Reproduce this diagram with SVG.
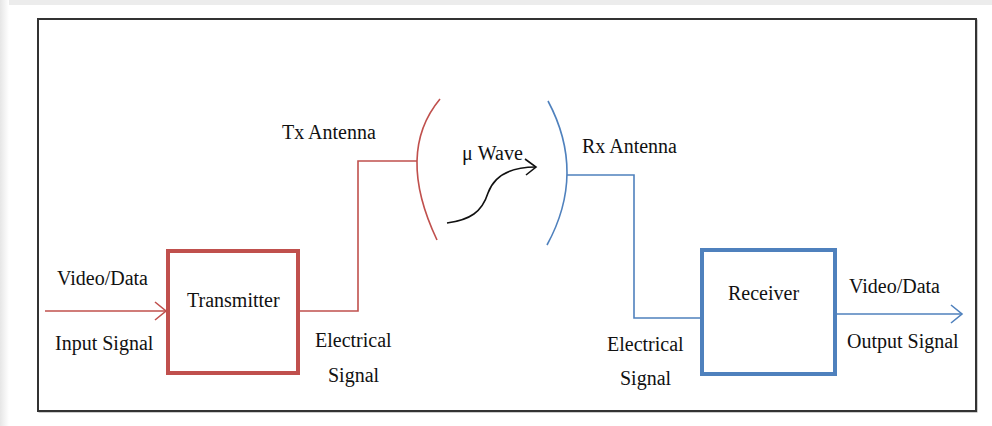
<svg xmlns="http://www.w3.org/2000/svg" width="992" height="426" viewBox="0 0 992 426">
<defs>
<linearGradient id="lg" x1="0" y1="0" x2="1" y2="0">
<stop offset="0" stop-color="#e6e6e6"/>
<stop offset="1" stop-color="#ffffff"/>
</linearGradient>
<marker id="ar" markerUnits="userSpaceOnUse" markerWidth="14" markerHeight="22" refX="11" refY="9" orient="auto" viewBox="-1 -1 14 20">
<path d="M0,0 L11,9 L0,18" fill="none" stroke="#C0504D" stroke-width="1.6"/>
</marker>
<marker id="ab" markerUnits="userSpaceOnUse" markerWidth="14" markerHeight="22" refX="11" refY="9" orient="auto" viewBox="-1 -1 14 20">
<path d="M0,0 L11,9 L0,18" fill="none" stroke="#4F81BD" stroke-width="1.6"/>
</marker>
<marker id="ak" markerUnits="userSpaceOnUse" markerWidth="14" markerHeight="20" refX="11" refY="8" orient="auto" viewBox="-1 -1 14 18">
<path d="M0,0 L11,8 L1,16" fill="none" stroke="#111" stroke-width="1.6"/>
</marker>
</defs>
<style>
text{font-family:"Liberation Serif","Times New Roman",serif;font-size:20px;fill:#111}
.box{fill:#fff;stroke-width:4}
.red{stroke:#C0504D}
.blue{stroke:#4F81BD}
.ln{fill:none;stroke-width:1.6}
</style>
<rect x="0" y="0" width="992" height="426" fill="#fff"/>
<rect x="0" y="0" width="992" height="5" fill="#ececec"/>
<rect x="0" y="0" width="9" height="426" fill="url(#lg)"/>
<rect x="39" y="20" width="938" height="392" fill="none" stroke="#999" stroke-width="1"/>
<rect x="38" y="19" width="938" height="392" fill="#fff" stroke="#333" stroke-width="2"/>

<g id="connectors">
<path class="ln red" d="M45,311 H166" marker-end="url(#ar)"/>
<path class="ln red" d="M298,311 H358 V161 H417"/>
<path class="ln blue" d="M567,175 H634 V318 H702"/>
<path class="ln blue" d="M835,314 H962" marker-end="url(#ab)"/>
<path d="M447,223 C470,220 482,212 488,193 C494,176 510,167 536,167" fill="none" stroke="#111" stroke-width="1.6" marker-end="url(#ak)"/>
</g>

<g id="tx-antenna">
<path class="ln red" d="M440,99 Q395.5,152.5 437,240"/>
<text x="282" y="139">Tx Antenna</text>
</g>
<g id="rx-antenna">
<path class="ln blue" d="M548,101 Q586.5,173 547,245"/>
<text x="582" y="153">Rx Antenna</text>
</g>
<g id="wave">
<text x="462" y="160">μ Wave</text>
</g>
<g id="transmitter">
<rect class="box red" x="168" y="251" width="130" height="122"/>
<text x="187" y="307">Transmitter</text>
</g>
<g id="receiver">
<rect class="box blue" x="702" y="250" width="133" height="124"/>
<text x="728" y="300">Receiver</text>
</g>
<g id="labels">
<text x="57" y="285">Video/Data</text>
<text x="55" y="350">Input Signal</text>
<text x="315" y="347">Electrical</text>
<text x="328" y="382">Signal</text>
<text x="607" y="351">Electrical</text>
<text x="620" y="385">Signal</text>
<text x="849" y="293">Video/Data</text>
<text x="847" y="348">Output Signal</text>
</g>
</svg>
